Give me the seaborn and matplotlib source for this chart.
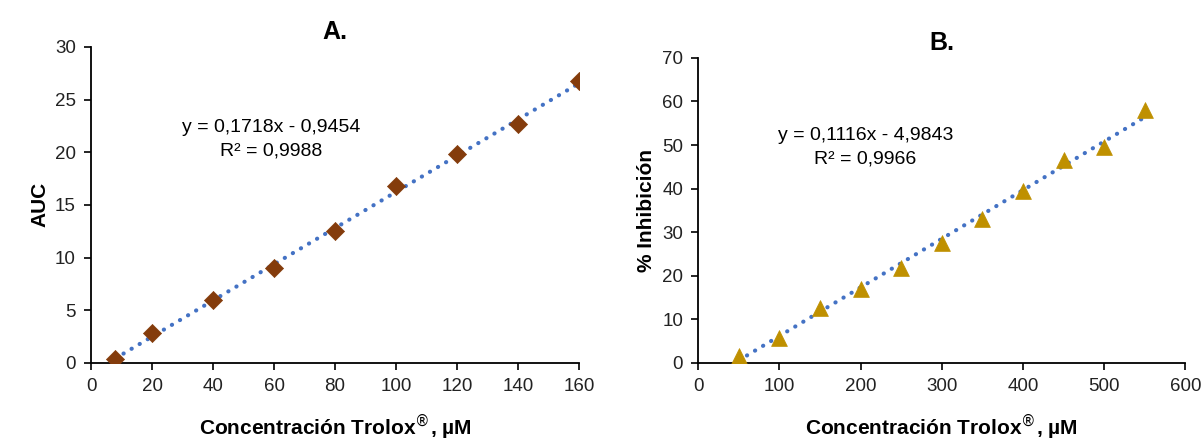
import numpy as np
import pandas as pd
import matplotlib
matplotlib.use('Agg')
import matplotlib.pyplot as plt
import seaborn as sns

# Panel A: AUC vs Trolox
conc_a = [8, 20, 40, 60, 80, 100, 120, 140, 160]
auc_a = [0.4, 2.8, 6.0, 9.0, 12.5, 16.8, 19.8, 22.7, 26.8]
slope_a, icpt_a = 0.1718, -0.9454

# Panel B: % inhibition vs Trolox
conc_b = [50, 100, 150, 200, 250, 300, 350, 400, 450, 500, 550]
inh_b = [1.5, 5.8, 12.5, 17.0, 21.8, 27.5, 33.0, 39.5, 46.5, 49.5, 58.0]
slope_b, icpt_b = 0.1116, -4.9843

sns.set_style('ticks')
plt.rcParams['font.family'] = ['Liberation Sans Narrow', 'Liberation Sans', 'DejaVu Sans']
plt.rcParams['text.color'] = 'black'
plt.rcParams['axes.labelcolor'] = 'black'
plt.rcParams['xtick.labelcolor'] = '#222222'
plt.rcParams['ytick.labelcolor'] = '#222222'

fig = plt.figure(figsize=(12.04, 4.42), dpi=100)
ax1 = fig.add_axes([0.0756, 0.179, 0.4054, 0.715])
ax2 = fig.add_axes([0.580, 0.179, 0.4045, 0.690])

trend_col = '#4472C4'
xlab = 'Concentración Trolox$^{®}$, µM'


def panel(ax, x, y, m, b, marker, color, size, title, ylabel, xlim, ylim, step_x, step_y, eq, r2, tx, ty):
    df = pd.DataFrame({'x': x, 'y': y})
    fit = pd.DataFrame({'x': [min(x), max(x)]})
    fit['y'] = m * fit['x'] + b
    sns.lineplot(data=fit, x='x', y='y', ax=ax, color=trend_col, lw=3.0,
                 linestyle=(0, (0.05, 2.2)), dash_capstyle='round')
    sns.scatterplot(data=df, x='x', y='y', ax=ax, marker=marker, color=color,
                    s=size, edgecolor=color, linewidth=0.5, zorder=3)
    ax.set_xlim(*xlim)
    ax.set_ylim(*ylim)
    ax.set_xticks(np.arange(xlim[0], xlim[1] + 1, step_x))
    ax.set_yticks(np.arange(ylim[0], ylim[1] + 1, step_y))
    ax.tick_params(labelsize=13.5, length=5, width=1.2, color='black', pad=6)
    for sp in ['top', 'right']:
        ax.spines[sp].set_visible(False)
    for sp in ['left', 'bottom']:
        ax.spines[sp].set_color('black')
        ax.spines[sp].set_linewidth(1.3)
    ax.set_xlabel(xlab, fontsize=15, fontweight='bold', labelpad=12)
    ax.set_ylabel(ylabel, fontsize=15, fontweight='bold')
    ax.set_title(title, fontsize=18, fontweight='bold', pad=6)
    ax.text(tx, ty, eq + '\n' + r2, ha='center', va='center', fontsize=14,
            linespacing=1.5)


panel(ax1, conc_a, auc_a, slope_a, icpt_a, 'D', '#843C0C', 85, 'A.', 'AUC',
      (0, 160), (0, 30), 20, 5, 'y = 0,1718x - 0,9454', 'R² = 0,9988', 59, 21.2)
panel(ax2, conc_b, inh_b, slope_b, icpt_b, '^', '#BF9000', 130, 'B.', '% Inhibición',
      (0, 600), (0, 70), 100, 10, 'y = 0,1116x - 4,9843', 'R² = 0,9966', 206, 49.6)

fig.savefig('out.png', dpi=100)
